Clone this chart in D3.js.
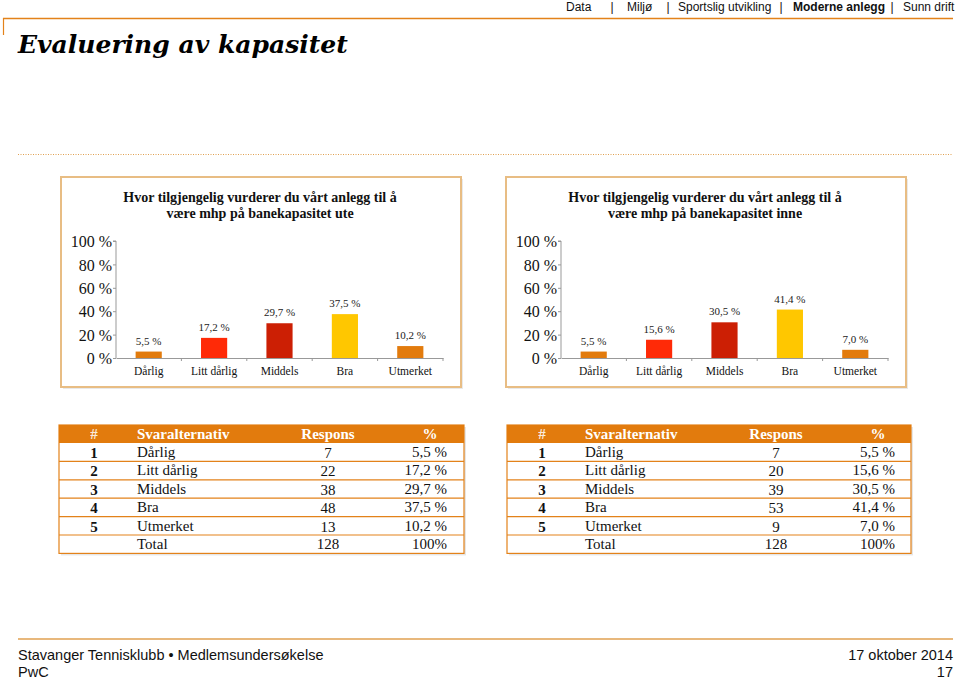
<!DOCTYPE html>
<html>
<head>
<meta charset="utf-8">
<script src="https://cdn.jsdelivr.net/npm/d3@7"></script>
<style>
  html, body { margin: 0; padding: 0; background: #fff; }
  svg { display: block; }
</style>
</head>
<body>
<svg id="chart" width="959" height="680"></svg>
<script>
// ---- data ----
const categories = ["Dårlig", "Litt dårlig", "Middels", "Bra", "Utmerket"];
const uteValues = [5.5, 17.2, 29.7, 37.5, 10.2];
const inneValues = [5.5, 15.6, 30.5, 41.4, 7.0];
const uteResponses = [7, 22, 38, 48, 13];
const inneResponses = [7, 20, 39, 53, 9];
const uteTotal = 128;
const inneTotal = 128;
const yTicks = [0, 20, 40, 60, 80, 100];
const barColors = ["#E27B0D", "#FF2A07", "#CC1F04", "#FFC700", "#E27B0D"];
const navItems = ["Data", "Miljø", "Sportslig utvikling", "Moderne anlegg", "Sunn drift"];
const tableHeaders = ["#", "Svaralternativ", "Respons", "%"];

const ORANGE = "#E3821A";
const SERIF = "Georgia, 'Liberation Serif', serif";
const SANS = "'Liberation Sans', Arial, sans-serif";

const locale = d3.formatLocale({decimal: ",", thousands: " ", grouping: [3], currency: ["", " kr"]});
const pct = v => locale.format(".1f")(v) + " %";

const svg = d3.select("#chart");

// ---- header ----
svg.append("line").attr("x1", 3).attr("x2", 953).attr("y1", 18.5).attr("y2", 18.5)
  .attr("stroke", ORANGE).attr("stroke-width", 1.5);
svg.append("line").attr("x1", 3.5).attr("x2", 3.5).attr("y1", 18).attr("y2", 35)
  .attr("stroke", ORANGE).attr("stroke-width", 1.2);

// nav
const navX = [566, 627, 678, 793, 903];
const sepX = [612, 668, 781, 892];
const nav = svg.append("g").attr("font-family", SANS).attr("font-size", 12).attr("fill", "#111");
navItems.forEach((t, i) => {
  nav.append("text").attr("x", navX[i]).attr("y", 11).text(t)
    .attr("font-weight", t === "Moderne anlegg" ? "bold" : "normal");
});
sepX.forEach(x => nav.append("text").attr("x", x).attr("y", 11).attr("text-anchor", "middle").text("|"));

// title
const title = svg.append("text").attr("x", 18).attr("y", 53)
  .attr("font-family", "'DejaVu Serif', serif").attr("font-weight", "bold").attr("font-style", "italic")
  .attr("font-size", 22).attr("fill", "#000").text("Evaluering av kapasitet");
{
  const w = title.node().getComputedTextLength();
  title.attr("font-size", 22 * 330 / w);
}

// dotted separator
svg.append("line").attr("x1", 18).attr("x2", 953).attr("y1", 154.5).attr("y2", 154.5)
  .attr("stroke", "#E0A050").attr("stroke-width", 1).attr("stroke-dasharray", "1,1.5");

// ---- charts ----
function drawChart(ox, titleLines, values) {
  const g = svg.append("g");
  // box
  g.append("rect").attr("x", ox + 2).attr("y", 179).attr("width", 400).attr("height", 210)
    .attr("fill", "#e9e9e9");
  g.append("rect").attr("x", ox).attr("y", 177).attr("width", 400).attr("height", 210)
    .attr("fill", "#fff").attr("stroke", "#E8BD84").attr("stroke-width", 2);

  g.selectAll("text.title").data(titleLines).join("text")
    .attr("x", ox + 199).attr("y", (d, i) => 202 + i * 16)
    .attr("text-anchor", "middle").attr("font-family", SERIF).attr("font-weight", "bold")
    .attr("font-size", 14).attr("fill", "#111").text(d => d);

  const x = d3.scaleBand().domain(categories).range([ox + 55, ox + 382]).paddingInner(0.6).paddingOuter(0.3);
  const xb = d3.scaleBand().domain(categories).range([ox + 55, ox + 382]);
  const y = d3.scaleLinear().domain([0, 100]).range([358, 241]);

  // y axis
  const ya = g.append("g").attr("transform", `translate(${ox + 55},0)`)
    .call(d3.axisLeft(y).tickValues(yTicks).tickSize(3).tickFormat(d => d + " %"));
  ya.select(".domain").attr("stroke", "#999").attr("d", `M-3,${y(100)}H0V${y(0)}`);
  ya.selectAll(".tick line").attr("stroke", "#999");
  ya.selectAll(".tick text").attr("font-family", SERIF).attr("font-size", 16).attr("fill", "#111").attr("x", -4).attr("dy", "0.35em");

  // x axis
  const xa = g.append("g").attr("transform", `translate(0,${y(0)})`)
    .call(d3.axisBottom(xb).tickSize(0).tickSizeOuter(0));
  xa.select(".domain").attr("stroke", "#999");
  xa.selectAll(".tick text").attr("font-family", SERIF).attr("font-size", 11.5).attr("fill", "#111").attr("dy", "1.25em");
  // category boundary ticks
  g.selectAll("line.bt").data(categories.slice(1).concat(["__end"])).join("line")
    .attr("x1", d => d === "__end" ? xb.range()[1] : xb(d)).attr("x2", d => d === "__end" ? xb.range()[1] : xb(d))
    .attr("y1", y(0)).attr("y2", y(0) + 3).attr("stroke", "#999");

  // bars
  g.selectAll("rect.bar").data(values).join("rect")
    .attr("x", (d, i) => x(categories[i])).attr("width", x.bandwidth())
    .attr("y", d => y(d)).attr("height", d => y(0) - y(d))
    .attr("fill", (d, i) => barColors[i]);

  g.selectAll("text.val").data(values).join("text")
    .attr("x", (d, i) => x(categories[i]) + x.bandwidth() / 2).attr("y", d => y(d) - 7)
    .attr("text-anchor", "middle").attr("font-family", SERIF).attr("font-size", 11).attr("fill", "#222")
    .text(d => pct(d));
}

drawChart(61, ["Hvor tilgjengelig vurderer du vårt anlegg til å", "være mhp på banekapasitet ute"], uteValues);
drawChart(506, ["Hvor tilgjengelig vurderer du vårt anlegg til å", "være mhp på banekapasitet inne"], inneValues);

// ---- tables ----
function drawTable(ox, w, responses, values, total) {
  const g = svg.append("g");
  const top = 425, hh = 18, rh = 18.4;
  const nRows = categories.length + 1;
  const bottom = top + hh + nRows * rh;
  g.append("rect").attr("x", ox + 2).attr("y", top + 2).attr("width", w).attr("height", bottom - top)
    .attr("fill", "#e6e6e6");
  g.append("rect").attr("x", ox).attr("y", top).attr("width", w).attr("height", bottom - top)
    .attr("fill", "#fff").attr("stroke", ORANGE).attr("stroke-width", 1.2);
  g.append("rect").attr("x", ox).attr("y", top).attr("width", w).attr("height", hh).attr("fill", "#E27B0D");

  const cNum = ox + 35, cName = ox + 78, cResp = ox + 269, cPctHead = ox + 371, cPct = ox + 388;
  const hdrX = [cNum, cName, cResp, cPctHead];
  const hdrAnchor = ["middle", "start", "middle", "middle"];
  tableHeaders.forEach((t, i) => {
    g.append("text").attr("x", hdrX[i]).attr("y", top + 14).attr("text-anchor", hdrAnchor[i])
      .attr("font-family", SERIF).attr("font-weight", "bold").attr("font-size", 15)
      .attr("fill", "#fff").attr("opacity", t === "#" ? 0.85 : 1).text(t);
  });

  for (let r = 1; r < nRows; r++) {
    g.append("line").attr("x1", ox).attr("x2", ox + w)
      .attr("y1", top + hh + r * rh).attr("y2", top + hh + r * rh)
      .attr("stroke", ORANGE).attr("stroke-width", 1.2);
  }

  const tf = g.append("g").attr("font-family", SERIF).attr("font-size", 15).attr("fill", "#111");
  categories.forEach((c, i) => {
    const by = top + hh + i * rh + 14;
    tf.append("text").attr("x", cNum).attr("y", by + 1).attr("text-anchor", "middle").attr("font-weight", "bold").text(i + 1);
    tf.append("text").attr("x", cName).attr("y", by).text(c);
    tf.append("text").attr("x", cResp).attr("y", by + 1).attr("text-anchor", "middle").text(responses[i]);
    tf.append("text").attr("x", cPct).attr("y", by).attr("text-anchor", "end").text(pct(values[i]));
  });
  const ty = top + hh + categories.length * rh + 14;
  tf.append("text").attr("x", cName).attr("y", ty).text("Total");
  tf.append("text").attr("x", cResp).attr("y", ty).attr("text-anchor", "middle").text(total);
  tf.append("text").attr("x", cPct).attr("y", ty).attr("text-anchor", "end").text("100%");
}

drawTable(59, 405, uteResponses, uteValues, uteTotal);
drawTable(507, 404, inneResponses, inneValues, inneTotal);

// ---- footer ----
svg.append("line").attr("x1", 18).attr("x2", 953).attr("y1", 639).attr("y2", 639)
  .attr("stroke", "#E0A050").attr("stroke-width", 1.5);
const ft = svg.append("g").attr("font-family", SANS).attr("font-size", 14.5).attr("fill", "#111");
ft.append("text").attr("x", 18).attr("y", 660).text("Stavanger Tennisklubb • Medlemsundersøkelse");
ft.append("text").attr("x", 18).attr("y", 677).text("PwC");
ft.append("text").attr("x", 953).attr("y", 660).attr("text-anchor", "end").text("17 oktober 2014");
ft.append("text").attr("x", 953).attr("y", 677).attr("text-anchor", "end").text("17");
</script>
</body>
</html>
